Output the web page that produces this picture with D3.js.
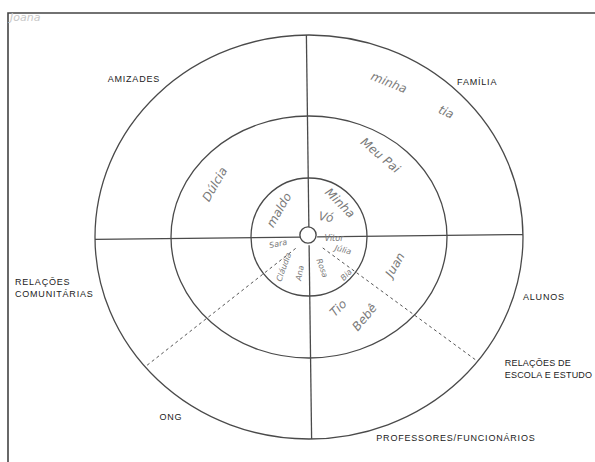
<!DOCTYPE html>
<html><head><meta charset="utf-8">
<script src="https://cdn.jsdelivr.net/npm/d3@7"></script>
<style>html,body{margin:0;padding:0;background:#fff;}svg{display:block;}</style>
</head><body>
<svg id="chart" width="595" height="462"></svg>
<script>
// ---- data ----
const ringLevels = [1, 2, 3];                     // closeness rings (inner -> outer)
const sectorLabels = ["AMIZADES", "FAMÍLIA", "RELAÇÕES\nCOMUNITÁRIAS", "ALUNOS",
                      "RELAÇÕES DE\nESCOLA E ESTUDO", "ONG", "PROFESSORES/FUNCIONÁRIOS"];
const labelAngle = [-136.3, -44.3, 169.6, 16.5, 35.6, 125.9, 55.4];   // degrees
const labelDist  = [1.132, 1.098, 1.397, 1.043, 1.125, 1.10, 1.209];  // relative to outer ring
const labelAnchor = ["middle", "middle", "start", "start", "start", "middle", "middle"];
const divisionAngles = [-0.7, 89.3, 179.3, 269.3]; // solid quadrant lines
const dashedAngles = [140, 38];                    // dashed sub-division lines
const personNames = ["minha", "tia", "Meu Pai", "Dúlcia", "maldo", "Minha", "Vó", "Juan",
                     "Tio", "Bebê", "Sara", "Cláudia", "Ana", "Vitor", "Júlia", "Rosa", "Bia"];
const personAngle = [-64.4, -44.4, -51.9, -148.2, -138.5, -47.2, -49, 19.2,
                     68.7, 57.8, 167.4, 130.3, 104.3, 2.3, 20.6, 66.9, 45];
const personRing  = [2.62, 2.71, 1.72, 1.66, 0.69, 0.786, 0.448, 1.415,
                     1.28, 1.58, 0.547, 0.667, 0.63, 0.43, 0.626, 0.571, 0.91];
const personRot   = [22, 25, 40, -60, -60, 45, 10, -60, -45, -50, -12, -70, -80, 0, 15, 70, -45];
const personSmall = [0, 0, 0, 0, 0, 0, 0, 0, 0, 0, 1, 1, 1, 1, 1, 1, 1];

// ---- layout ----
const svg = d3.select("#chart");
const cx = 309, cy = 237;
const rX = d3.scaleLinear().domain([0, 1, 2, 3]).range([0, 58, 138, 214]);
const rY = d3.scaleLinear().domain([0, 1, 2, 3]).range([0, 59, 121, 202]);
const rad = d => d * Math.PI / 180;
const pos = (a, r) => [cx + rX(r) * Math.cos(rad(a)), cy + rY(r) * Math.sin(rad(a))];
const outer = d3.max(ringLevels);
const lpos = (a, k) => [cx + rX(outer) * k * Math.cos(rad(a)), cy + rY(outer) * k * Math.sin(rad(a))];

// frame
svg.append("path").attr("d", "M8,463 L8,13 L596,13")
  .attr("fill", "none").attr("stroke", "#444").attr("stroke-width", 1.6);
svg.append("text").attr("x", 10).attr("y", 21).text("Joana")
  .attr("font-family", "DejaVu Sans").attr("font-style", "italic")
  .attr("font-size", 11).attr("fill", "#c8c8c8");

const ink = "#4a4a4a";
// rings
svg.selectAll("ellipse.ring").data(ringLevels).join("ellipse")
  .attr("class", "ring")
  .attr("cx", cx).attr("cy", cy)
  .attr("rx", d => rX(d)).attr("ry", d => rY(d))
  .attr("fill", "none").attr("stroke", ink).attr("stroke-width", 1.3);

// solid division lines
svg.selectAll("line.div").data(divisionAngles).join("line")
  .attr("class", "div")
  .attr("x1", d => pos(d, 0.14)[0]).attr("y1", d => pos(d, 0.14)[1])
  .attr("x2", d => pos(d, outer)[0]).attr("y2", d => pos(d, outer)[1])
  .attr("stroke", ink).attr("stroke-width", 1.3);

// dashed lines
svg.selectAll("line.dash").data(dashedAngles).join("line")
  .attr("class", "dash")
  .attr("x1", d => pos(d, 0.3)[0]).attr("y1", d => pos(d, 0.3)[1])
  .attr("x2", d => pos(d, outer)[0]).attr("y2", d => pos(d, outer)[1])
  .attr("stroke", "#555").attr("stroke-width", 1).attr("stroke-dasharray", "3,3");

// centre circle
svg.append("circle").attr("cx", cx - 1).attr("cy", cy - 2).attr("r", rX(0.14))
  .attr("fill", "#fff").attr("stroke", ink).attr("stroke-width", 1.4);

// sector labels
const lab = svg.selectAll("text.lab").data(sectorLabels).join("text")
  .attr("class", "lab")
  .attr("font-family", "Liberation Sans, Arial, sans-serif")
  .attr("font-size", 9)
  .attr("letter-spacing", d => d.indexOf("ESTUDO") >= 0 ? 0.2 : 0.8)
  .attr("fill", "#222")
  .attr("text-anchor", (d, i) => labelAnchor[i]);
lab.each(function(d, i) {
  const [x, y] = lpos(labelAngle[i], labelDist[i]);
  const lines = d.split("\n");
  d3.select(this).selectAll("tspan").data(lines).join("tspan")
    .attr("x", x)
    .attr("y", (l, j) => y + 3 + (j - (lines.length - 1) / 2) * 12)
    .text(l => l);
});

// handwritten names
svg.selectAll("text.name").data(personNames).join("text")
  .attr("class", "name")
  .attr("font-family", "DejaVu Sans, sans-serif")
  .attr("font-style", "italic").attr("font-weight", 300)
  .attr("font-size", (d, i) => personSmall[i] ? 8 : 12)
  .attr("fill", "#7a7a7a")
  .attr("text-anchor", "middle").attr("dominant-baseline", "central")
  .attr("transform", (d, i) => {
    const [x, y] = pos(personAngle[i], personRing[i]);
    return `translate(${x},${y}) rotate(${personRot[i]})`;
  })
  .text(d => d);
</script>
</body></html>
